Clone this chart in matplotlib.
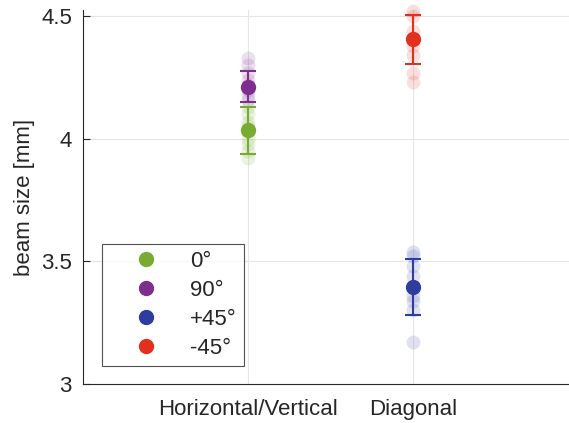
import numpy as np
import matplotlib.pyplot as plt
from matplotlib.lines import Line2D

plt.rcParams['font.family'] = ['Liberation Sans', 'DejaVu Sans']

# Data
groups = ['Horizontal/Vertical', 'Diagonal']
labels = ['0°', '90°', '+45°', '-45°']
colors = ['#77AC30', '#7E2F8E', '#2E3C9E', '#E2301F']
group_pos = [1, 1, 2, 2]
means = [4.035, 4.212, 3.394, 4.405]
errs = [0.096, 0.063, 0.114, 0.101]
samples = [
    [3.92, 3.95, 3.98, 4.00, 4.03, 4.05, 4.07, 4.10, 4.13],
    [4.16, 4.18, 4.20, 4.22, 4.24, 4.27, 4.30, 4.33],
    [3.17, 3.30, 3.34, 3.36, 3.44, 3.48, 3.52, 3.54],
    [4.23, 4.27, 4.34, 4.38, 4.41, 4.44, 4.50, 4.52],
]

fig = plt.figure(figsize=(5.69, 4.23), dpi=100)
ax = fig.add_axes([83/569, 39/423, 495/569, 374/423])

txt = '#262626'
# faint individual measurements
for x, s, c in zip(group_pos, samples, colors):
    ax.plot([x]*len(s), s, 'o', color=c, alpha=0.15, markersize=10,
            markeredgewidth=0, zorder=2, clip_on=False)

# means with error bars
for x, m, e, c in zip(group_pos, means, errs, colors):
    ax.errorbar(x, m, yerr=e, fmt='o', color=c, markersize=10, elinewidth=1.5,
                capsize=5.5, capthick=1.5, zorder=3)

ax.set_xlim(0, 3)
ax.set_ylim(3, 4.525)
ax.set_xticks([1, 2])
ax.set_xticklabels(groups)
ax.set_yticks([3, 3.5, 4, 4.5])
ax.set_yticklabels(['3', '3.5', '4', '4.5'])
ax.set_ylabel('beam size [mm]', fontsize=16, color=txt)
ax.tick_params(labelsize=16, colors=txt, direction='in', length=5, width=0.8, pad=8)
ax.tick_params(axis='x', length=0, pad=11)
ax.grid(True, color='#e6e6e6', linewidth=0.8)
ax.set_axisbelow(True)
for side in ['top', 'right']:
    ax.spines[side].set_visible(False)
for side in ['left', 'bottom']:
    ax.spines[side].set_color('#262626')
    ax.spines[side].set_linewidth(0.8)

handles = [Line2D([], [], marker='o', linestyle='', color=c, markersize=10) for c in colors]
leg = ax.legend(handles, labels, loc='lower left', bbox_to_anchor=(19/495, 18/374),
                borderaxespad=0, fontsize=16, frameon=True, fancybox=False,
                handletextpad=0.35, labelspacing=0.36, borderpad=0.32, handlelength=3.3)
leg.get_frame().set_edgecolor('#262626')
leg.get_frame().set_linewidth(0.8)
for t in leg.get_texts():
    t.set_color(txt)

fig.savefig('out.png', dpi=100)
